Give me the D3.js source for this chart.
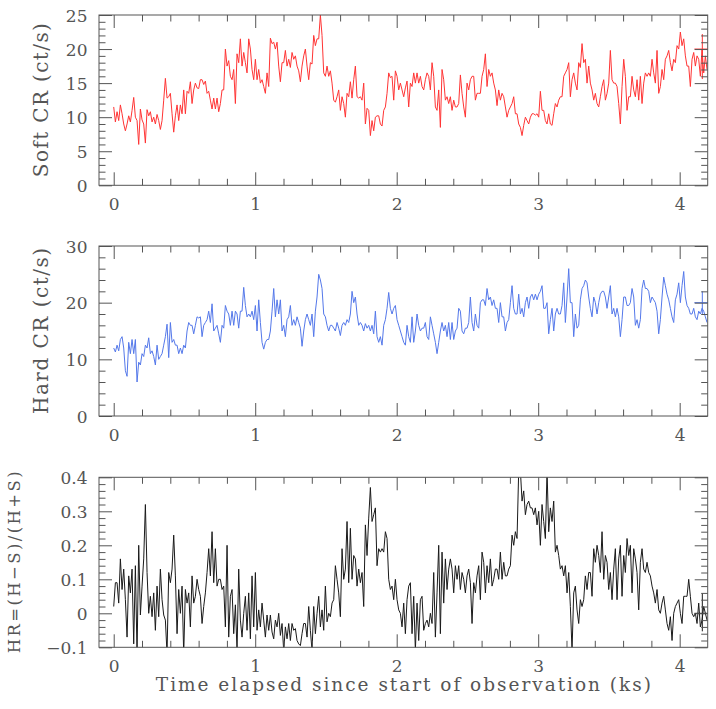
<!DOCTYPE html>
<html>
<head>
<meta charset="utf-8">
<script src="https://cdn.jsdelivr.net/npm/d3@7"></script>
<style>
  html, body { margin: 0; padding: 0; background: #fff; }
  svg { display: block; }
  text { font-family: "DejaVu Serif", "Liberation Serif", serif; fill: #555; }
</style>
</head>
<body>
<svg id="chart" width="716" height="709"></svg>
<script>
// ---------------- DATA ----------------
// light curves binned uniformly; bin width in ks
const binWidth = 0.011779;

const softRate = [
 11.5, 9.3, 10.8, 9.5, 11.8, 10.5, 9.0, 8.0, 9.0, 10.2, 9.3, 11.0, 12.9, 10.0, 9.5, 6.0, 11.2, 9.6, 9.0, 6.2,
 11.1, 10.2, 10.8, 9.3, 10.0, 9.0, 10.4, 9.5, 8.2, 9.5, 12.5, 15.7, 12.8, 13.0, 13.5, 10.5, 7.8, 10.2, 11.8, 9.5,
 11.8, 10.5, 14.0, 10.5, 13.8, 13.5, 15.2, 12.0, 14.0, 15.0, 14.3, 14.2, 15.5, 15.5, 14.8, 15.3, 13.5, 13.8, 12.5, 11.2,
 12.8, 11.2, 12.8, 10.8, 12.0, 14.0, 14.0, 20.0, 17.5, 18.3, 16.0, 15.5, 17.0, 12.0, 19.3, 18.0, 21.5, 17.5, 19.5, 18.0,
 16.5, 21.5, 20.0, 17.0, 15.5, 18.5, 15.5, 17.0, 15.0, 15.5, 14.5, 13.5, 16.5, 14.5, 21.6, 20.8, 21.0, 20.0, 21.0, 17.5,
 15.2, 18.0, 18.0, 19.8, 17.5, 18.5, 17.3, 19.5, 18.5, 19.0, 17.5, 16.8, 15.2, 17.5, 19.0, 20.0, 17.5, 15.5, 18.0, 17.8,
 22.0, 20.5, 21.5, 21.5, 25.0, 22.0, 16.5, 16.0, 17.5, 16.0, 16.8, 15.0, 12.5, 12.2, 13.0, 14.0, 11.0, 13.0, 12.0, 10.0,
 13.5, 13.0, 15.2, 12.8, 15.5,
 17.5, 13.0, 12.8, 13.0, 12.5, 15.0, 9.0, 11.3, 11.0, 7.3, 9.5, 8.0, 10.0, 10.2, 10.2, 9.0, 8.7, 11.0, 11.5, 13.5,
 16.5, 15.8, 16.0, 12.5, 16.8, 16.0, 14.0, 15.0, 14.0, 13.0, 14.3, 15.3, 11.5, 15.0, 14.5, 16.5, 15.0, 16.5, 15.0, 16.0,
 14.5, 14.0, 15.5, 16.5, 16.0, 14.0, 18.0, 16.0, 11.5, 11.0, 14.0, 8.5, 17.0, 15.5, 12.5, 13.0, 12.0, 13.0, 11.0, 12.5,
 11.5, 11.5, 12.0, 16.2, 13.5, 11.5, 10.0, 15.0, 14.0, 15.5, 16.0, 16.0, 12.5, 13.5, 13.5, 13.5, 16.0, 17.0, 19.3, 14.5,
 17.0, 16.0, 16.5, 15.0, 14.0, 11.7, 14.0, 12.5, 13.5, 13.0, 11.5, 10.0, 11.0, 11.5, 12.0, 13.0, 10.5, 10.5, 9.0, 8.5,
 7.3, 8.8, 10.0, 9.5, 9.0, 10.0, 10.5, 10.5, 10.3, 10.5, 10.0, 13.8, 11.0, 11.0, 9.5, 9.0, 10.5, 9.0, 8.8, 10.5,
 12.0, 11.5, 12.5, 13.0, 13.0, 16.0, 16.5, 17.0, 18.0, 13.0, 15.5, 16.5, 15.0, 14.0, 18.0, 17.3, 20.8, 18.0, 18.5, 15.0,
 17.5, 15.0, 14.0, 12.5, 13.5, 12.0, 11.5, 13.0, 14.5, 15.5, 12.5, 13.5, 15.0, 19.8, 15.5, 15.0, 15.0, 14.5, 12.0, 9.0,
 14.5, 18.5, 16.0, 11.0, 13.0, 13.0, 16.0, 14.0, 13.0, 15.5, 12.5, 16.0, 12.0, 15.0, 16.5, 16.0, 16.5, 16.0, 18.5, 16.5,
 15.0, 19.8, 13.5, 14.5, 17.0, 15.5, 18.5, 19.0, 19.8, 18.0, 16.8, 18.5, 18.0, 20.5, 20.0, 22.5, 20.5, 21.5, 19.0, 17.5,
 17.5, 14.5, 18.5, 19.5, 17.5, 19.0, 18.5, 16.0, 20.0, 16.5, 19.0, 17.0
];

const hardRate = [
 12.0, 11.3, 12.5, 11.5, 13.5, 14.0, 12.0, 8.0, 7.0, 13.0, 11.0, 13.5, 11.0, 13.5, 6.0, 9.5, 9.0, 11.0, 10.5, 12.5,
 12.0, 13.8, 11.0, 11.5, 10.5, 9.0, 12.5, 10.0, 10.5, 11.0, 12.5, 14.0, 16.2, 10.3, 16.5, 13.0, 13.5, 12.5, 12.5, 11.0,
 12.0, 11.0, 12.5, 12.0, 15.0, 16.5, 16.0, 16.0, 14.5, 16.0, 17.5, 17.3, 17.5, 14.0, 16.0, 16.5, 17.0, 18.5, 16.5, 19.8,
 15.0, 15.5, 16.0, 14.5, 13.0, 16.0, 15.5, 19.5, 18.5, 18.0, 16.0, 18.5, 16.0, 18.5, 18.0, 15.5, 18.5, 18.5, 22.7, 19.5,
 17.5, 18.0, 17.5, 18.5, 17.0, 19.5, 15.0, 20.5, 16.5, 13.0, 11.8, 13.0, 13.5, 13.5, 15.0, 18.5, 22.5, 17.5, 20.5, 18.0,
 20.5, 15.0, 16.0, 14.0, 17.0, 17.5, 19.5, 16.0, 17.0, 16.0, 17.5, 16.5, 15.5, 12.3, 15.0, 17.0, 18.0, 17.0, 16.0, 18.0,
 14.0, 18.5, 21.0, 25.0, 24.0, 22.5, 18.0, 17.5, 16.0, 15.0, 16.0, 16.0, 15.5, 15.0, 16.5, 15.5, 14.2, 16.0, 16.5, 16.0,
 17.0, 16.5, 18.0, 22.0, 20.0,
 21.0, 18.0, 16.0, 16.5, 16.0, 15.0, 16.3, 15.5, 16.0, 15.0, 16.0, 14.5, 18.5, 14.0, 13.0, 14.0, 12.5, 16.0, 17.0, 19.0,
 21.8, 19.0, 18.0, 19.0, 19.5, 17.0, 16.0, 15.0, 14.0, 13.0, 12.5, 16.0, 14.0, 13.0, 17.5, 13.0, 15.0, 18.0, 16.0, 15.0,
 15.5, 15.5, 16.5, 14.0, 13.5, 17.5, 16.0, 14.5, 13.0, 11.0, 13.0, 15.0, 16.5, 15.0, 16.0, 14.0, 16.5, 13.5, 16.5, 13.5,
 15.0, 15.5, 19.0, 18.5, 15.0, 14.5, 15.5, 15.5, 16.5, 21.0, 16.5, 15.0, 18.0, 16.0, 15.5, 20.0, 20.5, 20.5, 19.5, 22.5,
 20.5, 21.0, 19.5, 20.5, 19.0, 19.0, 16.5, 20.0, 17.5, 17.5, 15.0, 16.5, 17.0, 20.0, 23.0, 19.0, 18.0, 18.0, 21.5, 18.0,
 19.0, 17.5, 20.0, 21.0, 19.0, 21.0, 21.5, 20.5, 21.5, 20.5, 21.5, 22.0, 23.0, 19.0, 19.0, 20.0, 14.5, 17.0, 19.0, 15.0,
 18.0, 19.0, 18.0, 18.0, 19.5, 23.5, 16.5, 21.0, 26.0, 20.0, 20.0, 14.0, 18.0, 15.5, 16.0, 20.5, 22.5, 23.0, 24.0, 23.5,
 21.0, 19.0, 17.5, 21.0, 20.0, 18.0, 20.0, 21.5, 22.0, 22.0, 21.0, 19.0, 21.0, 23.0, 18.0, 19.0, 17.5, 19.0, 17.5, 14.0,
 17.0, 21.0, 21.0, 19.5, 19.5, 20.0, 22.5, 21.0, 16.0, 17.0, 15.5, 17.0, 22.5, 24.0, 22.5, 22.5, 22.0, 20.0, 21.0, 20.5,
 20.0, 18.5, 14.5, 17.0, 21.0, 24.5, 23.0, 21.5, 20.5, 19.0, 17.5, 16.5, 20.5, 21.5, 23.5, 20.0, 23.0, 25.5, 21.0, 19.5,
 19.0, 18.0, 18.0, 19.0, 17.5, 17.0, 18.5, 18.0, 19.0, 18.5, 17.5, 16.5
];

const hardnessRatio = [
 0.02, 0.09, 0.09, 0.03, 0.16, 0.07, 0.13, 0.04, -0.07, 0.11, 0.06, 0.13, -0.09, 0.14, -0.12, 0.20, -0.005, 0.08, 0.16, 0.32,
 0.12, 0.0, 0.05, -0.01, 0.06, -0.05, 0.08, -0.01, 0.13, 0.04, -0.005, -0.02, -0.12, 0.12, 0.09, 0.13, 0.23, 0.11, -0.06, 0.07,
 0.0, 0.08, -0.12, 0.07, 0.03, 0.06, -0.04, 0.11, 0.03, 0.05, 0.10, 0.07, 0.05, -0.03, 0.02, 0.06, 0.12, 0.19, 0.11, 0.24,
 0.09, 0.19, 0.08, 0.10, 0.10, 0.07, 0.08, -0.04, 0.20, -0.07, 0.05, 0.07, -0.06, 0.025, -0.11, 0.13, -0.02, -0.07, 0.0, 0.05,
 -0.05, 0.06, -0.075, 0.11, -0.04, 0.12, -0.05, 0.01, -0.04, 0.03, -0.02, -0.07, -0.005, -0.05, -0.005, -0.055, -0.075, -0.02, -0.04, 0.0,
 -0.065, -0.03, -0.11, -0.04, -0.075, -0.03, -0.08, -0.03, -0.05, -0.045, -0.08, -0.09, -0.095, -0.06, -0.03, -0.03, -0.07, 0.02, -0.05, -0.11,
 0.02, -0.06, 0.0, 0.05, -0.04, 0.01, -0.05, 0.08, -0.025, 0.0, -0.01, 0.03, 0.04, 0.14, 0.10, 0.06, -0.01, 0.19, 0.10, 0.13,
 0.27, 0.09, 0.25, 0.10, 0.17,
 0.16, 0.08, 0.13, 0.09, 0.12, 0.02, 0.26, 0.17, 0.28, 0.37, 0.27, 0.29, 0.31, 0.14, 0.19, 0.18, 0.19, 0.18, 0.24, 0.22,
 0.10, 0.07, 0.08, 0.04, 0.10, 0.04, 0.01, 0.0, -0.04, 0.03, -0.06, 0.04, 0.08, 0.09, -0.06, 0.05, -0.11, 0.03, -0.08, 0.04,
 0.05, -0.05, -0.03, -0.02, -0.04, 0.0, -0.03, 0.12, -0.07, 0.06, 0.20, -0.06, 0.18, 0.03, 0.16, 0.07, 0.13, 0.16, 0.13, 0.06,
 0.14, 0.10, 0.14, 0.07, 0.12, 0.10, 0.06, 0.11, 0.13, 0.09, -0.03, 0.09, 0.06, 0.11, 0.14, 0.04, 0.18, 0.15, 0.06, 0.14,
 0.09, 0.16, 0.08, 0.10, 0.13, 0.13, 0.10, 0.18, 0.10, 0.15, 0.11, 0.11, 0.13, 0.14, 0.23, 0.20, 0.24, 0.22, 0.42, 0.42,
 0.33, 0.36, 0.29, 0.32, 0.33, 0.31, 0.31, 0.29, 0.31, 0.26, 0.30, 0.20, 0.32, 0.27, 0.22, 0.42, 0.24, 0.31, 0.27, 0.33,
 0.18, 0.20, 0.17, 0.13, 0.14, 0.11, 0.14, 0.06, 0.12, 0.02, -0.11, 0.06, 0.08, 0.01, -0.03, 0.04, 0.02, 0.04, 0.11, 0.07,
 0.12, 0.12, 0.05, 0.19, 0.15, 0.20, 0.17, 0.12, 0.24, 0.10, 0.17, 0.15, 0.07, 0.12, 0.04, 0.13, 0.19, 0.04, 0.16, 0.20,
 0.05, 0.17, 0.12, 0.22, 0.17, 0.20, 0.06, 0.19, 0.16, 0.12, 0.01, 0.15, 0.19, 0.13, 0.12, 0.15, 0.12, 0.11, 0.08, 0.06,
 0.03, 0.07, 0.01, 0.0, 0.03, 0.05, 0.01, -0.03, -0.05, -0.01, -0.08, 0.0, 0.02, 0.03, 0.04, 0.0, -0.03, 0.05, 0.05, 0.05,
 0.10, 0.05, 0.0, -0.01, 0.0, -0.03, 0.03, -0.04, -0.02, 0.02, 0.0, -0.02
];

// typical error bars drawn near the right edge: [time, timeErr, value, valueLow, valueHigh]
const softErrorBar = [4.16, 0.056, 20.0, 15.6, 22.2];
const hardErrorBar = [4.16, 0.056, 20.0, 18.0, 22.0];
const hrErrorBar   = [4.16, 0.056, 0.0, -0.053, 0.059];

const xMajorTicks = [0, 1, 2, 3, 4];
const softTicks = [0, 5, 10, 15, 20, 25];
const hardTicks = [0, 10, 20, 30];
const hrTicks = [-0.1, 0, 0.1, 0.2, 0.3, 0.4];

const xTitle = "Time elapsed since start of observation (ks)";
const softTitle = "Soft CR (ct/s)";
const hardTitle = "Hard CR (ct/s)";
const hrTitle = "HR=(H\u2212S)/(H+S)";

// ---------------- LAYOUT ----------------
const svg = d3.select("#chart");
const left = 99, right = 707.7;
const x = d3.scaleLinear().domain([-0.104, 4.198]).range([left, right]);
const xMinor = d3.range(0, 4.2, 0.2).map(v => +v.toFixed(2)).filter(v => xMajorTicks.indexOf(v) < 0);

const panels = [
  { values: softRate, top: 15, bottom: 185.3, domain: [0, 25], ticks: softTicks, minorStep: 1,
    color: "#ff3434", title: softTitle, titleX: 48, titleSize: 20, titleLen: 154, err: softErrorBar, fmt: d => d },
  { values: hardRate, top: 246, bottom: 416, domain: [0, 30], ticks: hardTicks, minorStep: 2,
    color: "#5478ea", title: hardTitle, titleX: 48, titleSize: 20, titleLen: 166, err: hardErrorBar, fmt: d => d },
  { values: hardnessRatio, top: 477.3, bottom: 647.3, domain: [-0.1, 0.4], ticks: hrTicks, minorStep: 0.02,
    color: "#1a1a1a", title: hrTitle, titleX: 19.5, titleSize: 16.5, titleLen: 182, err: hrErrorBar,
    fmt: d => d === 0 ? "0" : d3.format(".1f")(d).replace("-", "\u2212") }
];

const axisColor = "#555";
const major = 13, minor = 6.5;

panels.forEach((p, i) => {
  const y = d3.scaleLinear().domain(p.domain).range([p.bottom, p.top]);
  const g = svg.append("g");

  // data line
  const clipId = "clip" + i;
  svg.append("clipPath").attr("id", clipId).append("rect")
    .attr("x", left).attr("y", p.top).attr("width", right - left).attr("height", p.bottom - p.top);
  const line = d3.line().x((d, k) => x(k * binWidth)).y(d => y(d));
  g.append("path").datum(p.values)
    .attr("clip-path", `url(#${clipId})`)
    .attr("d", line).attr("fill", "none").attr("stroke", p.color).attr("stroke-width", 1)
    .attr("stroke-linejoin", "round");

  // error bar cross
  const e = p.err;
  const eg = g.append("g").attr("clip-path", `url(#${clipId})`).attr("stroke", p.color).attr("stroke-width", 1);
  eg.append("line").attr("x1", x(e[0] - e[1])).attr("x2", x(e[0] + e[1])).attr("y1", y(e[2])).attr("y2", y(e[2]));
  eg.append("line").attr("x1", x(e[0])).attr("x2", x(e[0])).attr("y1", y(e[3])).attr("y2", y(e[4]));

  // minor ticks list for y
  const n = Math.round((p.domain[1] - p.domain[0]) / p.minorStep);
  const yMinor = d3.range(n + 1).map(k => +(p.domain[0] + k * p.minorStep).toFixed(3))
    .filter(v => !p.ticks.some(t => Math.abs(t - v) < 1e-6));

  const styleAxis = sel => {
    sel.select(".domain").remove();
    sel.selectAll(".tick line").attr("stroke", axisColor).attr("stroke-width", 1);
  };

  // bottom
  const bAx = g.append("g").attr("transform", `translate(0,${p.bottom})`)
    .call(d3.axisBottom(x).tickValues(xMajorTicks).tickSize(-major).tickPadding(0).tickFormat(d3.format("d")))
    .call(styleAxis);
  bAx.selectAll("text").attr("y", 24.5).attr("dy", null)
    .attr("font-size", 17).attr("font-family", "DejaVu Serif").attr("fill", "#555");
  g.append("g").attr("transform", `translate(0,${p.bottom})`)
    .call(d3.axisBottom(x).tickValues(xMinor).tickSize(-minor).tickFormat(""))
    .call(styleAxis);
  // top
  g.append("g").attr("transform", `translate(0,${p.top})`)
    .call(d3.axisTop(x).tickValues(xMajorTicks).tickSize(-major).tickFormat(""))
    .call(styleAxis);
  g.append("g").attr("transform", `translate(0,${p.top})`)
    .call(d3.axisTop(x).tickValues(xMinor).tickSize(-minor).tickFormat(""))
    .call(styleAxis);
  // left
  const lAx = g.append("g").attr("transform", `translate(${left},0)`)
    .call(d3.axisLeft(y).tickValues(p.ticks).tickSize(-major).tickPadding(11.5).tickFormat(p.fmt))
    .call(styleAxis);
  lAx.selectAll("text").attr("dy", "0.36em")
    .attr("font-size", 17).attr("font-family", "DejaVu Serif").attr("fill", "#555");
  g.append("g").attr("transform", `translate(${left},0)`)
    .call(d3.axisLeft(y).tickValues(yMinor).tickSize(-minor).tickFormat(""))
    .call(styleAxis);
  // right
  g.append("g").attr("transform", `translate(${right},0)`)
    .call(d3.axisRight(y).tickValues(p.ticks).tickSize(-major).tickFormat(""))
    .call(styleAxis);
  g.append("g").attr("transform", `translate(${right},0)`)
    .call(d3.axisRight(y).tickValues(yMinor).tickSize(-minor).tickFormat(""))
    .call(styleAxis);

  // frame
  g.append("rect").attr("x", left).attr("y", p.top).attr("width", right - left).attr("height", p.bottom - p.top)
    .attr("fill", "none").attr("stroke", axisColor).attr("stroke-width", 1);

  // y title
  const cy = (p.top + p.bottom) / 2;
  g.append("text").attr("transform", `translate(${p.titleX},${cy}) rotate(-90)`)
    .attr("text-anchor", "middle").attr("font-size", p.titleSize)
    .attr("textLength", p.titleLen).attr("lengthAdjust", "spacing")
    .text(p.title);
});

svg.append("text").attr("x", (left + right) / 2).attr("y", 691)
  .attr("text-anchor", "middle").attr("font-size", 18.5)
  .attr("textLength", 495).attr("lengthAdjust", "spacing")
  .text(xTitle);
</script>
</body>
</html>
